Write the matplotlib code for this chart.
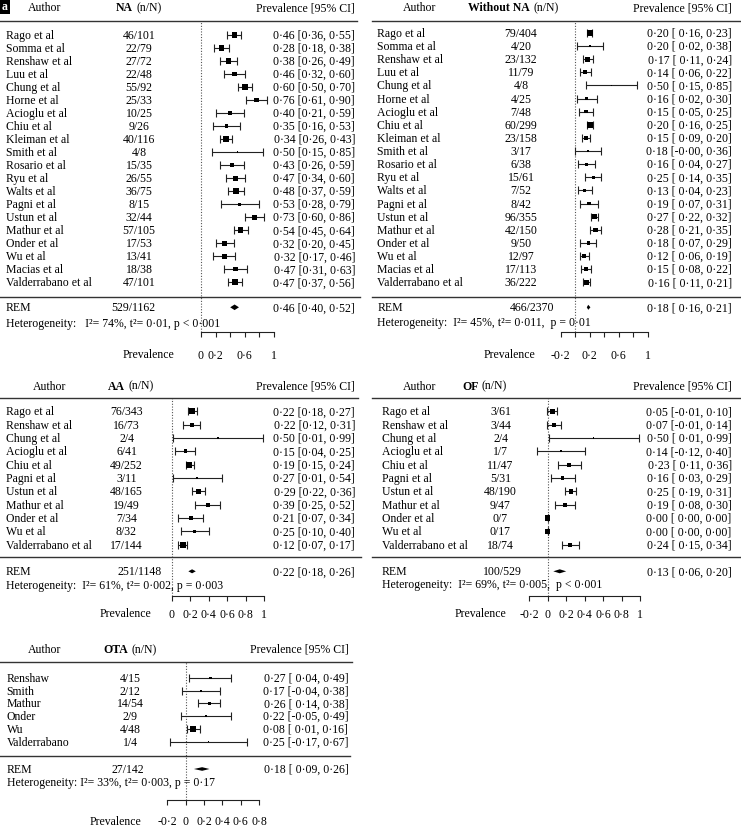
import matplotlib
matplotlib.use("Agg")
import matplotlib.pyplot as plt
import numpy as np
from matplotlib.lines import Line2D
from matplotlib.patches import Rectangle
from matplotlib.transforms import blended_transform_factory

plt.rcParams['font.family'] = ['Liberation Serif', 'DejaVu Serif']
FS = 8.5

# ---------------- data ----------------
na_authors = ["Rago et al", "Somma et al", "Renshaw et al", "Luu et al", "Chung et al",
              "Horne et al", "Acioglu et al", "Chiu et al", "Kleiman et al", "Smith et al",
              "Rosario et al", "Ryu et al", "Walts et al", "Pagni et al", "Ustun et al",
              "Mathur et al", "Onder et al", "Wu et al", "Macias et al", "Valderrabano et al"]
na_n = [46, 22, 27, 22, 55, 25, 10, 9, 40, 4, 15, 26, 36, 8, 32, 57, 17, 13, 18, 47]
na_N = [101, 79, 72, 48, 92, 33, 25, 26, 116, 8, 35, 55, 75, 15, 44, 105, 53, 41, 38, 101]
na_est = [0.46, 0.28, 0.38, 0.46, 0.60, 0.76, 0.40, 0.35, 0.34, 0.50, 0.43, 0.47, 0.48, 0.53,
          0.73, 0.54, 0.32, 0.32, 0.47, 0.47]
na_lo = [0.36, 0.18, 0.26, 0.32, 0.50, 0.61, 0.21, 0.16, 0.26, 0.15, 0.26, 0.34, 0.37, 0.28,
         0.60, 0.45, 0.20, 0.17, 0.31, 0.37]
na_hi = [0.55, 0.38, 0.49, 0.60, 0.70, 0.90, 0.59, 0.53, 0.43, 0.85, 0.59, 0.60, 0.59, 0.79,
         0.86, 0.64, 0.45, 0.46, 0.63, 0.56]
na_wt = [6.1, 6.0, 5.7, 5.0, 6.0, 4.9, 3.9, 4.0, 6.3, 1.8, 4.4, 5.2, 5.7, 2.8, 5.2, 6.1, 5.4,
         4.9, 4.6, 6.1]
na_rem = [529, 1162, 0.46, 0.40, 0.52]
na_het = "Heterogeneity:   I²= 74%, t²= 0·01, p < 0·001"
na_ticks = [0, 0.2, 0.4, 0.6, 0.8, 1]
na_ticklabels = ["0", "0·2", "", "0·6", "", "1"]

wna_authors = na_authors
wna_n = [79, 4, 23, 11, 4, 4, 7, 60, 23, 3, 6, 15, 7, 8, 96, 42, 9, 12, 17, 36]
wna_N = [404, 20, 132, 79, 8, 25, 48, 299, 158, 17, 38, 61, 52, 42, 355, 150, 50, 97, 113, 222]
wna_est = [0.20, 0.20, 0.17, 0.14, 0.50, 0.16, 0.15, 0.20, 0.15, 0.18, 0.16, 0.25, 0.13, 0.19,
           0.27, 0.28, 0.18, 0.12, 0.15, 0.16]
wna_lo = [0.16, 0.02, 0.11, 0.06, 0.15, 0.02, 0.05, 0.16, 0.09, -0.0, 0.04, 0.14, 0.04, 0.07,
          0.22, 0.21, 0.07, 0.06, 0.08, 0.11]
wna_hi = [0.23, 0.38, 0.24, 0.22, 0.85, 0.30, 0.25, 0.25, 0.20, 0.36, 0.27, 0.35, 0.23, 0.31,
          0.32, 0.35, 0.29, 0.19, 0.22, 0.21]
wna_wt = [7.3, 2.8, 5.9, 5.5, 1.8, 3.7, 4.6, 7.3, 5.9, 3.2, 4.1, 4.6, 4.6, 4.1, 6.9, 5.9, 4.1,
          5.1, 5.5, 6.9]
wna_rem = [466, 2370, 0.18, 0.16, 0.21]
wna_het = "Heterogeneity:  I²= 45%, t²= 0·011,  p = 0·01"
wna_ticks = [-0.2, 0, 0.2, 0.4, 0.6, 0.8, 1]
wna_ticklabels = ["-0·2", "", "0·2", "", "0·6", "", "1"]

aa_authors = ["Rago et al", "Renshaw et al", "Chung et al", "Acioglu et al", "Chiu et al",
              "Pagni et al", "Ustun et al", "Mathur et al", "Onder et al", "Wu et al",
              "Valderrabano et al"]
aa_n = [76, 16, 2, 6, 49, 3, 48, 19, 7, 8, 17]
aa_N = [343, 73, 4, 41, 252, 11, 165, 49, 34, 32, 144]
aa_est = [0.22, 0.22, 0.50, 0.15, 0.19, 0.27, 0.29, 0.39, 0.21, 0.25, 0.12]
aa_lo = [0.18, 0.12, 0.01, 0.04, 0.15, 0.01, 0.22, 0.25, 0.07, 0.10, 0.07]
aa_hi = [0.27, 0.31, 0.99, 0.25, 0.24, 0.54, 0.36, 0.52, 0.34, 0.40, 0.17]
aa_wt = [13.8, 9.2, 3.0, 8.5, 13.8, 3.9, 11.5, 8.5, 7.6, 6.9, 13.1]
aa_rem = [251, 1148, 0.22, 0.18, 0.26]
aa_het = "Heterogeneity:  I²= 61%, t²= 0·002, p = 0·003"
aa_ticks = [0, 0.2, 0.4, 0.6, 0.8, 1]
aa_ticklabels = ["0", "0·2", "0·4", "0·6", "0·8", "1"]

of_authors = aa_authors
of_n = [3, 3, 2, 1, 11, 5, 48, 9, 0, 0, 18]
of_N = [61, 44, 4, 7, 47, 31, 190, 47, 7, 17, 74]
of_est = [0.05, 0.07, 0.50, 0.14, 0.23, 0.16, 0.25, 0.19, 0.00, 0.00, 0.24]
of_lo = [-0.01, -0.01, 0.01, -0.12, 0.11, 0.03, 0.19, 0.08, 0.00, 0.00, 0.15]
of_hi = [0.10, 0.14, 0.99, 0.40, 0.36, 0.29, 0.31, 0.30, 0.00, 0.00, 0.34]
of_wt = [10.6, 9.8, 2.5, 4.9, 9.1, 9.1, 10.6, 9.1, 12.3, 12.3, 9.8]
of_rem = [100, 529, 0.13, 0.06, 0.20]
of_het = "Heterogeneity:  I²= 69%, t²= 0·005,  p < 0·001"
of_ticks = [-0.2, 0, 0.2, 0.4, 0.6, 0.8, 1]
of_ticklabels = ["-0·2", "0", "0·2", "0·4", "0·6", "0·8", "1"]

ota_authors = ["Renshaw", "Smith", "Mathur", "Onder", "Wu", "Valderrabano"]
ota_n = [4, 2, 14, 2, 4, 1]
ota_N = [15, 12, 54, 9, 48, 4]
ota_est = [0.27, 0.17, 0.26, 0.22, 0.08, 0.25]
ota_lo = [0.04, -0.04, 0.14, -0.05, 0.01, -0.17]
ota_hi = [0.49, 0.38, 0.38, 0.49, 0.16, 0.67]
ota_wt = [13.6, 13.6, 21.9, 11.8, 31.4, 7.7]
ota_rem = [27, 142, 0.18, 0.09, 0.26]
ota_het = "Heterogeneity: I²= 33%, t²= 0·003, p = 0·17"
ota_ticks = [-0.2, 0, 0.2, 0.4, 0.6, 0.8]
ota_ticklabels = ["-0·2", "0", "0·2", "0·4", "0·6", "0·8"]

# ---------------- figure ----------------
W, H = 741, 829
DPI = 100
PX2PT = 72 / DPI
fig = plt.figure(figsize=(W / DPI, H / DPI), dpi=DPI)
fig.patch.set_facecolor("white")


def fx(x):
    return x / W


def fy(y):
    return 1 - y / H


def fmt(v):
    return f"{v:.2f}".replace(".", "·")


def ci_text(e, l, h, pad):
    ls = fmt(l)
    if pad and not ls.startswith("-"):
        ls = " " + ls
    return f"{fmt(e)} [{ls}, {fmt(h)}]"


def hline(x0, x1, y):
    fig.add_artist(Line2D([fx(x0), fx(x1)], [fy(y), fy(y)], color="#333333", lw=1.0))


def draw_panel(title, authors, n, N, est, lo, hi, wt, rem, het, ticks, ticklabels, L):
    k = len(authors)
    sp = (L['rowN'] - L['row0']) / (k - 1)
    top, bot = L['hline'], L['axis']
    ax = fig.add_axes([fx(L['x0']), fy(bot), (L['x1'] - L['x0']) / W, (bot - top) / H])
    ax.set_xlim(ticks[0], ticks[-1])
    ax.set_ylim((bot - L['row0']) / sp, (top - L['row0']) / sp)
    ax.patch.set_alpha(0)
    for s in ["top", "left", "right"]:
        ax.spines[s].set_visible(False)
    ax.spines["bottom"].set_linewidth(0.8)
    ax.spines["bottom"].set_color("#222222")
    ax.set_yticks([])
    ax.set_xticks(ticks)
    ax.set_xticklabels(ticklabels)
    tl = 5.0
    pad_pt = ((L['ticky'] - 5.4) - (bot + tl)) * PX2PT
    ax.tick_params(axis="x", direction="out", length=tl * PX2PT, width=0.8,
                   color="#222222", pad=pad_pt, labelsize=FS)

    def yr(ypx):
        return (ypx - L['row0']) / sp

    tr = blended_transform_factory(fig.transFigure, ax.transData)
    rows = np.arange(k)
    est_a = np.array(est)
    lo_a = np.array(lo)
    hi_a = np.array(hi)
    pad = bool(np.any(np.signbit(lo_a)))

    # null line
    ax.axvline(0, color="#555555", lw=0.8, ls=(0, (1, 1.5)), clip_on=False, zorder=1)

    # CIs and squares
    ax.errorbar(est_a, rows, xerr=[est_a - lo_a, hi_a - est_a], fmt="none",
                ecolor="#222222", elinewidth=0.8, capsize=2.6, capthick=0.8,
                clip_on=False, zorder=2)
    wt_a = np.array(wt, dtype=float)
    side_px = L['maxsq'] * wt_a / wt_a.max()
    ax.scatter(est_a, rows, s=(side_px * PX2PT) ** 2, marker="s", color="black",
               linewidths=0, clip_on=False, zorder=3)

    # summary diamond
    ry = yr(L['rem'])
    dh = L['dh'] / sp
    ax.fill([rem[3], rem[2], rem[4], rem[2]], [ry, ry - dh, ry, ry + dh],
            color="black", lw=0, clip_on=False, zorder=3)

    # row texts
    for i in range(k):
        ax.text(fx(L['name_x']), i, authors[i], transform=tr, ha="left", va="center",
                fontsize=FS)
        ax.text(fx(L['nN_x']), i, f"{n[i]}/{N[i]}", transform=tr, ha="center",
                va="center", fontsize=FS)
        ax.text(fx(L['ci_x']), i, ci_text(est[i], lo[i], hi[i], pad), transform=tr,
                ha="right", va="center", fontsize=FS)

    ax.text(fx(L['name_x']), ry, "REM", transform=tr, ha="left", va="center", fontsize=FS)
    ax.text(fx(L['remnN_x']), ry, f"{rem[0]}/{rem[1]}", transform=tr, ha="center",
            va="center", fontsize=FS)
    ax.text(fx(L['ci_x']), ry, ci_text(rem[2], rem[3], rem[4], pad), transform=tr,
            ha="right", va="center", fontsize=FS)
    ax.text(fx(L['name_x']), yr(L['het']), het, transform=tr, ha="left", va="center",
            fontsize=FS)

    # header
    fig.text(fx(L['auth_x']), fy(L['head']), "Author", ha="center", va="center", fontsize=FS)
    fig.text(fx(L['bold_end']), fy(L['head']), title, ha="right", va="center",
             fontsize=FS, weight="bold")
    fig.text(fx(L['bold_end'] + 3.5), fy(L['head']), "(n/N)", ha="left", va="center",
             fontsize=FS)
    fig.text(fx(L['cih_x']), fy(L['head']), "Prevalence [95% CI]", ha="right",
             va="center", fontsize=FS)
    hline(L['lx0'], L['lx1'], L['hline'])
    hline(L['lx0'], L['sx1'], L['sep'])

    # x label
    fig.text(fx(L['xlab_x']), fy(L['ticky']), "Prevalence", ha="center", va="center",
             fontsize=FS)
    return ax


L_na = dict(head=8.3, x0=201, x1=274, hline=22, axis=333, row0=36, rowN=283.3, sep=297.5,
            rem=308.3, het=324, ticky=355, name_x=6, nN_x=139, remnN_x=133.3, ci_x=355,
            auth_x=44.7, bold_end=133, cih_x=355, lx0=0, lx1=357, sx1=360,
            xlab_x=148, maxsq=6.0, dh=2.8)
L_wna = dict(head=8.3, x0=560.7, x1=647.7, hline=22, axis=333, row0=34, rowN=283.3, sep=297.5,
             rem=308.3, het=323, ticky=355, name_x=377.3, nN_x=521, remnN_x=531.8,
             ci_x=731.7, auth_x=420, bold_end=530, cih_x=731.7, lx0=372, lx1=740,
             sx1=740, xlab_x=509, maxsq=5.6, dh=2.5)
L_aa = dict(head=386.7, x0=171.7, x1=264.3, hline=398.5, axis=597, row0=412.3, rowN=545.7,
            sep=558.3, rem=572.3, het=586, ticky=614, name_x=6, nN_x=126.5,
            remnN_x=139.5, ci_x=355, auth_x=49.7, bold_end=125, cih_x=355, lx0=0,
            lx1=358, sx1=361, xlab_x=125, maxsq=6.2, dh=2.0)
L_of = dict(head=386.7, x0=529.3, x1=640, hline=398.5, axis=597, row0=412.3, rowN=545.7,
            sep=558.3, rem=572.3, het=585, ticky=614, name_x=381.7, nN_x=500.5,
            remnN_x=502.5, ci_x=731.7, auth_x=420, bold_end=478.3, cih_x=731.7,
            lx0=372, lx1=740, sx1=740, xlab_x=480, maxsq=5.3, dh=2.0)
L_ota = dict(head=650, x0=167.3, x1=259, hline=663.3, axis=801, row0=679, rowN=742.7,
             sep=756.7, rem=770, het=783, ticky=821.7, name_x=6.7, nN_x=130,
             remnN_x=128.3, ci_x=348.3, auth_x=44.7, bold_end=128.3, cih_x=348.3,
             lx0=0, lx1=352, sx1=350, xlab_x=115, maxsq=5.5, dh=1.8)

draw_panel("NA", na_authors, na_n, na_N, na_est, na_lo, na_hi, na_wt, na_rem, na_het,
           na_ticks, na_ticklabels, L_na)
draw_panel("Without NA", wna_authors, wna_n, wna_N, wna_est, wna_lo, wna_hi, wna_wt,
           wna_rem, wna_het, wna_ticks, wna_ticklabels, L_wna)
draw_panel("AA", aa_authors, aa_n, aa_N, aa_est, aa_lo, aa_hi, aa_wt, aa_rem, aa_het,
           aa_ticks, aa_ticklabels, L_aa)
draw_panel("OF", of_authors, of_n, of_N, of_est, of_lo, of_hi, of_wt, of_rem, of_het,
           of_ticks, of_ticklabels, L_of)
draw_panel("OTA", ota_authors, ota_n, ota_N, ota_est, ota_lo, ota_hi, ota_wt, ota_rem,
           ota_het, ota_ticks, ota_ticklabels, L_ota)

# panel letter
fig.add_artist(Rectangle((0, fy(15)), fx(10), 15 / H, transform=fig.transFigure,
                         color="black", lw=0))
fig.text(fx(5), fy(7.5), "a", color="white", ha="center", va="center",
         fontsize=FS, weight="bold")

fig.savefig("out.png", dpi=DPI, facecolor="white")
